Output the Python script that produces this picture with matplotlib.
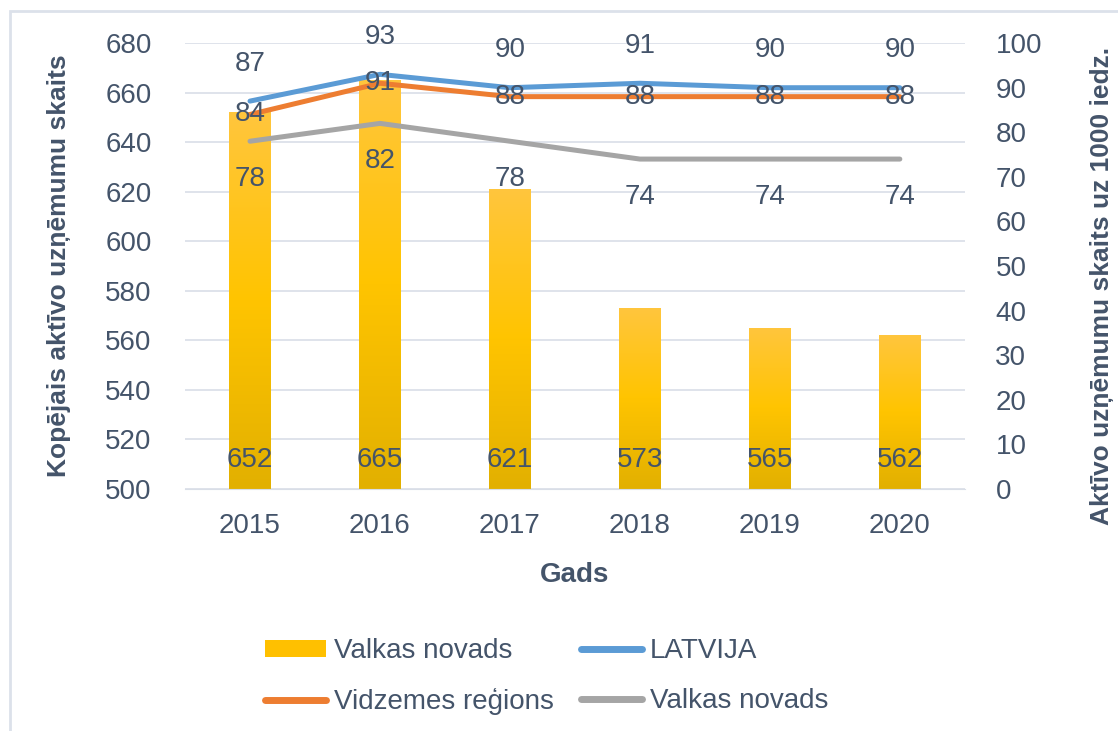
import matplotlib.pyplot as plt
import numpy as np
from matplotlib.patches import Rectangle
from matplotlib.colors import LinearSegmentedColormap

years = ['2015', '2016', '2017', '2018', '2019', '2020']
valka_total = [652, 665, 621, 573, 565, 562]
latvija = [87, 93, 90, 91, 90, 90]
vidzeme = [84, 91, 88, 88, 88, 88]
valka_per1000 = [78, 82, 78, 74, 74, 74]

txt = '#44546A'
grid = '#D9DEE7'
plt.rcParams['font.family'] = ['Liberation Sans', 'DejaVu Sans']

fig = plt.figure(figsize=(11.18, 7.31), dpi=100)
# light frame around the chart area
fig.patches.append(Rectangle((10 / 1118, -0.1), 1.2, 1 - 11 / 731 + 0.1,
                             transform=fig.transFigure, fill=False,
                             edgecolor='#DCE1EA', linewidth=2))

ax = fig.add_axes([0.1655, 0.331, 0.6975, 0.61])
x = np.arange(len(years))
bars = ax.bar(x, valka_total, width=0.32, color='#FFC000',
              label='Valkas novads', zorder=2)

# vertical gradient in each bar
grad = np.linspace(0, 1, 256).reshape(-1, 1)
cmap = LinearSegmentedColormap.from_list('g', ['#E2B000', '#FFC400', '#FFC63D'])
for b in bars:
    bx, bw, bh = b.get_x(), b.get_width(), b.get_height()
    im = ax.imshow(grad, extent=[bx, bx + bw, 500, bh], origin='lower',
                   cmap=cmap, aspect='auto', zorder=2.1)
    im.set_clip_path(b)

ax.set_ylim(500, 680)
ax.set_xlim(-0.5, 5.5)
ax.set_yticks(range(500, 681, 20))
ax.set_xticks(x)
ax.set_xticklabels(years)
ax.grid(axis='y', color=grid, linewidth=1.2, zorder=0)
ax.set_axisbelow(True)
for s in ax.spines.values():
    s.set_visible(False)
ax.spines['bottom'].set_visible(True)
ax.spines['bottom'].set_color(grid)
ax.tick_params(length=0, labelsize=20, colors=txt)
ax.tick_params(axis='y', pad=24)
ax.tick_params(axis='x', pad=17)
ax.set_ylabel('Kopējais aktīvo uzņēmumu skaits', fontsize=19, fontweight='bold',
              color=txt)
ax.yaxis.set_label_coords(-0.146, 0.5)
ax.set_xlabel('Gads', fontsize=20, fontweight='bold', color=txt, labelpad=17)

for xi, v in zip(x, valka_total):
    ax.annotate(str(v), (xi, 500), xytext=(0, 21), textcoords='offset points',
                ha='center', va='center', fontsize=20, color=txt, zorder=5)

ax2 = ax.twinx()
ax2.set_ylim(0, 100)
ax2.set_yticks(range(0, 101, 10))
for s in ax2.spines.values():
    s.set_visible(False)
ax2.tick_params(length=0, labelsize=20, colors=txt, pad=22)
ax2.set_ylabel('Aktīvo uzņēmumu skaits uz 1000 iedz.', fontsize=19,
               fontweight='bold', color=txt, rotation=90)
ax2.yaxis.set_label_coords(1.16, 0.455)

l1, = ax2.plot(x, latvija, color='#5B9BD5', lw=3.6, solid_capstyle='round', label='LATVIJA')
l2, = ax2.plot(x, vidzeme, color='#ED7D31', lw=3.6, solid_capstyle='round', label='Vidzemes reģions')
l3, = ax2.plot(x, valka_per1000, color='#A5A5A5', lw=3.6, solid_capstyle='round', label='Valkas novads')

for xi, v in zip(x, latvija):
    ax2.annotate(str(v), (xi, v), xytext=(0, 27), textcoords='offset points',
                 ha='center', va='center', fontsize=20, color=txt)
for xi, v in zip(x, vidzeme):
    ax2.annotate(str(v), (xi, v), xytext=(0, 0), textcoords='offset points',
                 ha='center', va='center', fontsize=20, color=txt)
for xi, v in zip(x, valka_per1000):
    ax2.annotate(str(v), (xi, v), xytext=(0, -27), textcoords='offset points',
                 ha='center', va='center', fontsize=20, color=txt)

leg = fig.legend([bars, l2, l1, l3],
                 ['Valkas novads', 'Vidzemes reģions', 'LATVIJA', 'Valkas novads'],
                 ncol=2, loc='center', bbox_to_anchor=(0.489, 0.0745), frameon=False,
                 fontsize=20, handlelength=2.2, handleheight=0.6, handletextpad=0.3,
                 columnspacing=0.95, labelspacing=0.85)
for t in leg.get_texts():
    t.set_color(txt)
for h in leg.legend_handles[1:]:
    h.set_linewidth(5)

fig.savefig('out.png', dpi=100)
